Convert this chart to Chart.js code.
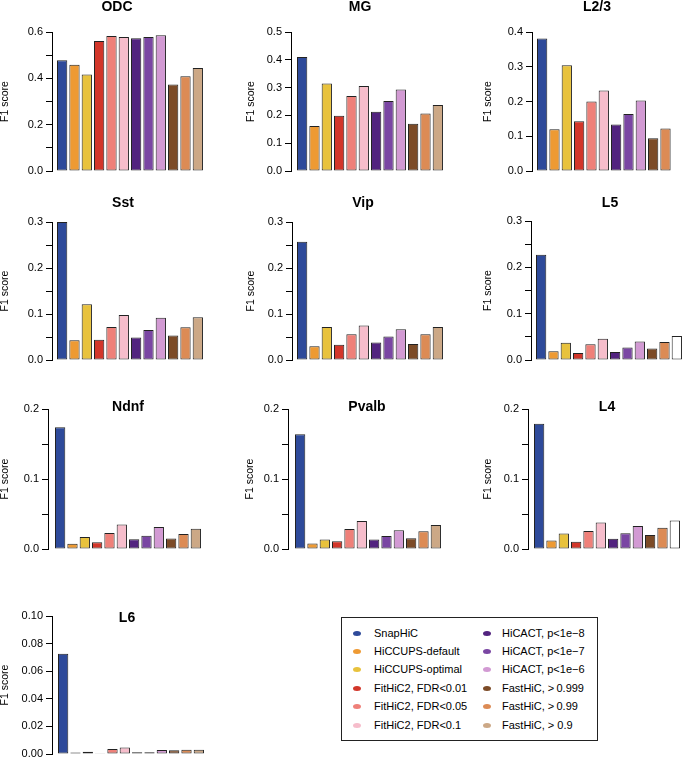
<!DOCTYPE html>
<html>
<head>
<meta charset="utf-8">
<script src="https://cdn.jsdelivr.net/npm/chart.js@4.4.0/dist/chart.umd.min.js"></script>
<style>
  html, body { margin: 0; padding: 0; background: #fff; }
  #page { position: relative; width: 683px; height: 759px; overflow: hidden; font-family: "Liberation Sans", Arial, sans-serif; }
  #page canvas { position: absolute; }
  #legend { position: absolute; left: 341px; top: 617px; width: 255px; height: 122px; border: 1px solid #222; }
  .item { position: absolute; font-size: 11px; line-height: 13px; color: #000; white-space: nowrap; }
  .dot { position: absolute; width: 8px; height: 5px; border-radius: 50%; }
</style>
</head>
<body>
<div id="page"><div id="legend"></div></div>
<script>
// methods (one bar per method in every panel)
const methods = [
  'SnapHiC', 'HiCCUPS-default', 'HiCCUPS-optimal',
  'FitHiC2, FDR<0.01', 'FitHiC2, FDR<0.05', 'FitHiC2, FDR<0.1',
  'HiCACT, p<1e\u22128', 'HiCACT, p<1e\u22127', 'HiCACT, p<1e\u22126',
  'FastHiC, >\u20090.999', 'FastHiC, >\u20090.99', 'FastHiC, > 0.9'
];
const methodColors = [
  '#2e4a9a', '#ee9a33', '#e8c23d',
  '#d2362a', '#ef8079', '#f6bdcb',
  '#52237f', '#7a46a3', '#d29ad3',
  '#7c4b27', '#dc8b55', '#cca886'
];

const panelNames = ['ODC', 'MG', 'L2/3', 'Sst', 'Vip', 'L5', 'Ndnf', 'Pvalb', 'L4', 'L6'];

// F1 scores
const odc   = [0.478, 0.459, 0.417, 0.561, 0.583, 0.578, 0.573, 0.578, 0.586, 0.373, 0.409, 0.445];
const mg    = [0.410, 0.162, 0.315, 0.199, 0.270, 0.306, 0.213, 0.252, 0.293, 0.170, 0.207, 0.237];
const l23   = [0.381, 0.120, 0.304, 0.143, 0.200, 0.232, 0.134, 0.164, 0.203, 0.094, 0.122, null];
const sst   = [0.300, 0.043, 0.121, 0.044, 0.072, 0.098, 0.049, 0.065, 0.092, 0.053, 0.071, 0.093];
const vip   = [0.257, 0.030, 0.072, 0.033, 0.056, 0.075, 0.038, 0.051, 0.067, 0.035, 0.056, 0.072];
const l5    = [0.227, 0.019, 0.037, 0.015, 0.034, 0.046, 0.017, 0.027, 0.040, 0.025, 0.039, 0.052];
const ndnf  = [0.174, 0.0076, 0.017, 0.0095, 0.023, 0.035, 0.014, 0.019, 0.0315, 0.015, 0.0215, 0.029];
const pvalb = [0.164, 0.008, 0.0134, 0.011, 0.0286, 0.040, 0.0134, 0.0186, 0.0267, 0.0153, 0.0253, 0.0344];
const l4    = [0.179, 0.012, 0.022, 0.0105, 0.0258, 0.0377, 0.0148, 0.0224, 0.033, 0.020, 0.0305, 0.0406];
const l6    = [0.0727, 0.001, 0.0017, 0.0005, 0.0036, 0.0048, 0.0012, 0.0012, 0.0029, 0.0027, 0.0031, 0.0031];
const panelValues = [odc, mg, l23, sst, vip, l5, ndnf, pvalb, l4, l6];

// y axis: max, tick step, label every n-th tick, decimals
const yMax   = [0.6, 0.5, 0.4, 0.3, 0.3, 0.3, 0.2, 0.2, 0.2, 0.10];
const yStep  = [0.1, 0.1, 0.1, 0.05, 0.05, 0.05, 0.05, 0.05, 0.05, 0.02];
const yEvery = [2, 1, 1, 2, 2, 2, 2, 2, 2, 1];
const yDec   = [1, 1, 1, 1, 1, 1, 1, 1, 1, 2];

// panels where the last bar shows up white in the figure
const whiteLast = ['L5', 'L4'];

// page layout: axis x, plot top, plot bottom, gap to first bar, title x/y, y-label x
const layout = [
  [52, 32, 171, 5, 117, 7, 5],
  [291, 32, 171, 6, 360, 7, 251],
  [532, 32, 171, 5, 597, 7, 488],
  [52, 222, 360, 5, 123, 203, 5],
  [292, 222, 360, 5, 363, 203, 251],
  [531, 221, 360, 5, 610, 203, 488],
  [48, 409, 549, 7, 128, 407, 5],
  [288, 409, 549, 7, 367, 407, 250],
  [528, 409, 549, 6, 607, 407, 488],
  [52, 616, 754, 6, 127, 618, 5]
];
const slot = 12.33;
const barFrac = 1 / 1.2;

Chart.defaults.font.family = '"Liberation Sans", Arial, sans-serif';
Chart.defaults.color = '#000';

const panelTitle = {
  id: 'panelTitle',
  afterDraw(chart, args, opts) {
    const ctx = chart.ctx;
    ctx.save();
    ctx.font = 'bold 14px "Liberation Sans", Arial, sans-serif';
    ctx.fillStyle = '#000';
    ctx.textAlign = 'center';
    ctx.textBaseline = 'middle';
    ctx.fillText(opts.text, opts.x, opts.y);
    ctx.restore();
  }
};

const page = document.getElementById('page');
const labelFont = 10.5;
const labelHalf = labelFont * 1.2 / 2;

panelNames.forEach((name, p) => {
  const [axisX, plotTop, plotBottom, gap, titleX, titleY, labelX] = layout[p];
  const left = Math.floor(labelX - labelHalf);
  const top = Math.floor(Math.min(titleY - 10, plotTop - 14));
  const axisW = axisX - left;
  const xMin = -barFrac / 2 - gap / slot;
  const xMax = 11.5;
  const width = Math.ceil(axisW + (xMax - xMin) * slot);
  const height = Math.ceil(plotBottom + 10 - top);

  const canvas = document.createElement('canvas');
  canvas.width = width;
  canvas.height = height;
  canvas.style.left = left + 'px';
  canvas.style.top = top + 'px';
  canvas.style.width = width + 'px';
  canvas.style.height = height + 'px';
  page.insertBefore(canvas, document.getElementById('legend'));

  const colors = methodColors.slice();
  if (whiteLast.includes(name)) colors[colors.length - 1] = '#ffffff';

  new Chart(canvas.getContext('2d'), {
    type: 'bar',
    data: {
      datasets: [{
        data: panelValues[p].map((v, i) => ({ x: i, y: v })),
        backgroundColor: colors,
        borderColor: '#222',
        borderWidth: 1,
        borderSkipped: false,
        categoryPercentage: 1,
        barPercentage: barFrac
      }]
    },
    plugins: [panelTitle],
    options: {
      responsive: false,
      animation: false,
      layout: { padding: { top: plotTop - top, bottom: top + height - plotBottom, left: 0, right: 0 } },
      plugins: {
        legend: { display: false },
        tooltip: { enabled: false },
        panelTitle: { text: name, x: titleX - left, y: titleY - top }
      },
      scales: {
        x: { type: 'linear', min: xMin, max: xMax, offset: false, display: false },
        y: {
          min: 0,
          max: yMax[p],
          afterFit: (scale) => { scale.width = axisW; },
          ticks: {
            stepSize: yStep[p],
            autoSkip: false,
            padding: 3,
            font: { size: 11 },
            color: '#000',
            callback: (value, index) => index % yEvery[p] === 0 ? value.toFixed(yDec[p]) : ''
          },
          grid: { drawOnChartArea: false, drawTicks: true, tickLength: 6, color: '#000', tickColor: '#000', tickWidth: 1, lineWidth: 1 },
          border: { display: true, color: '#000', width: 1 },
          title: {
            display: true,
            text: 'F1 score',
            color: '#000',
            font: { size: labelFont },
            padding: { top: labelX - left - labelHalf, bottom: 0 }
          }
        }
      }
    }
  });
});

// legend box
const legend = document.getElementById('legend');
methods.forEach((m, i) => {
  const col = Math.floor(i / 6);
  const row = i % 6;
  const cy = 15 + row * 18.4;
  const dot = document.createElement('span');
  dot.className = 'dot';
  dot.style.background = methodColors[i];
  dot.style.left = (col === 0 ? 11 : 141) + 'px';
  dot.style.top = (cy - 2.5) + 'px';
  legend.appendChild(dot);
  const txt = document.createElement('span');
  txt.className = 'item';
  txt.textContent = m;
  txt.style.left = (col === 0 ? 32 : 160) + 'px';
  txt.style.top = (cy - 6.5) + 'px';
  legend.appendChild(txt);
});
</script>
</body>
</html>
